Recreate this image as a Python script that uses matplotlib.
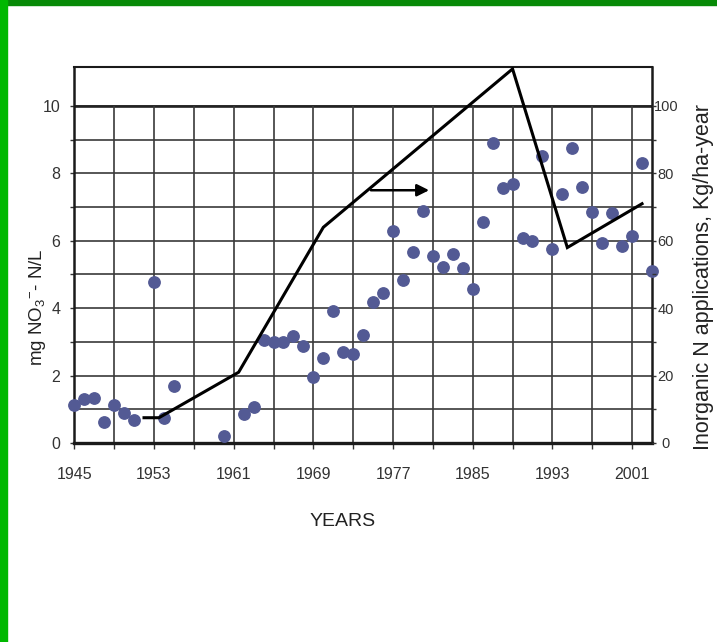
import matplotlib
matplotlib.use("Agg")
import matplotlib.pyplot as plt
from matplotlib.patches import Rectangle

plt.rcParams["font.family"] = ["Liberation Sans", "DejaVu Sans"]
plt.rcParams["mathtext.fontset"] = "custom"
plt.rcParams["mathtext.rm"] = "Liberation Sans"
plt.rcParams["mathtext.it"] = "Liberation Sans:italic"

# Measured groundwater nitrate (mg NO3- - N/L)
nitrate_years = [1945, 1946, 1947, 1948, 1949, 1950, 1951, 1953, 1954, 1955,
                 1960, 1962, 1963, 1964, 1965, 1966, 1967, 1968, 1969, 1970,
                 1971, 1972, 1973, 1974, 1975, 1976, 1977, 1978, 1979, 1980,
                 1981, 1982, 1983, 1984, 1985, 1986, 1987, 1988, 1989, 1990,
                 1991, 1992, 1993, 1994, 1995, 1996, 1997, 1998, 1999, 2000,
                 2001, 2002, 2003]
nitrate_values = [1.12, 1.30, 1.33, 0.63, 1.13, 0.88, 0.68, 4.79, 0.73, 1.70,
                  0.21, 0.85, 1.06, 3.06, 3.01, 3.01, 3.18, 2.89, 1.97, 2.51,
                  3.93, 2.69, 2.64, 3.20, 4.19, 4.44, 6.30, 4.84, 5.66, 6.89,
                  5.55, 5.22, 5.60, 5.18, 4.57, 6.57, 8.91, 7.56, 7.69, 6.07,
                  6.00, 8.53, 5.76, 7.39, 8.74, 7.61, 6.85, 5.93, 6.82, 5.85,
                  6.14, 8.30, 5.11]

# Inorganic N application rate (kg/ha-year)
napp_years = [1952, 1953.5, 1961.5, 1970, 1989, 1994.5, 2002]
napp_values = [7.5, 7.5, 21, 64, 111, 58, 71]

year_ticks = [1945, 1953, 1961, 1969, 1977, 1985, 1993, 2001]
year_labels = ["1945", "1953", "1961", "1969", "1977", "1985", "1993", "2001"]
conc_ticks = [0, 2, 4, 6, 8, 10]
napp_ticks = [0, 20, 40, 60, 80, 100]

marker_color = "#535a94"
grid_color = "#3a3a3a"
label_color = "#333333"

fig = plt.figure(figsize=(7.17, 6.42), dpi=100)
fig.patch.set_facecolor("white")

# Slide border
fig.patches.append(Rectangle((0, 1 - 5 / 642), 1, 5 / 642, transform=fig.transFigure,
                             color="#078a07", zorder=0))
fig.patches.append(Rectangle((0, 0), 7 / 717, 1, transform=fig.transFigure,
                             color="#00b800", zorder=0))

ax = fig.add_axes([74.3 / 717, 1 - 443 / 642, (652 - 74.3) / 717, (443 - 67) / 642])
ax.set_xlim(1945, 2003)
ax.set_ylim(0, 11.157)

# Grid occupies 0-10 only; the band above stays open
ax.hlines(range(0, 11), 1945, 2003, colors=grid_color, lw=1.2, zorder=1)
ax.hlines(10, 1945, 2003, colors="#222222", lw=1.9, zorder=1)
ax.vlines(range(1949, 2003, 4), 0, 10, colors=grid_color, lw=1.2, zorder=1)

for side, lw in (("left", 1.8), ("right", 1.8), ("top", 1.5), ("bottom", 2.4)):
    ax.spines[side].set_linewidth(lw)
    ax.spines[side].set_color("#1a1a1a")

ax.set_xticks(year_ticks)
ax.set_xticklabels(year_labels)
ax.set_xticks(range(1949, 2003, 8), minor=True)
ax.set_yticks(conc_ticks)
ax.set_yticks(range(1, 11, 2), minor=True)
ax.tick_params(axis="x", which="both", direction="out", length=4, width=1,
               color="#333333", pad=13, labelsize=11.5, labelcolor=label_color)
ax.tick_params(axis="y", which="both", direction="out", length=3, width=1,
               color="#333333", pad=7, labelsize=11.5, labelcolor=label_color)

ax.plot(nitrate_years, nitrate_values, linestyle="none", marker="o", ms=8.2,
        color=marker_color, clip_on=False, zorder=5)

ax2 = ax.twinx()
ax2.set_ylim(0, 111.57)
ax2.set_yticks(napp_ticks)
ax2.set_yticks(range(10, 101, 20), minor=True)
ax2.tick_params(axis="y", which="both", direction="out", length=3, width=1,
                color="#333333", pad=7, labelsize=10.5, labelcolor=label_color)
for lab in ax2.get_yticklabels():
    lab.set_horizontalalignment("center")
for side in ax2.spines:
    ax2.spines[side].set_visible(False)

ax2.plot(napp_years, napp_values, color="black", lw=2.2, solid_joinstyle="miter",
         zorder=4)
ax2.annotate("", xy=(1980.9, 75), xytext=(1974.5, 75),
             arrowprops=dict(arrowstyle="-|>", color="black", lw=1.8,
                             mutation_scale=18))

fig.text(343 / 717, 1 - 521 / 642, "YEARS", ha="center", va="center",
         fontsize=14, color="#222222")
fig.text(38 / 717, 1 - 307 / 642, r"mg NO$_{3}$$^{-}$- N/L", rotation=90,
         ha="center", va="center", fontsize=13.5, color="#222222")
fig.text(703 / 717, 1 - 277 / 642, "Inorganic N applications, Kg/ha-year",
         rotation=90, ha="center", va="center", fontsize=15.5, color="#222222")

fig.savefig("out.png", dpi=100, facecolor="white")
